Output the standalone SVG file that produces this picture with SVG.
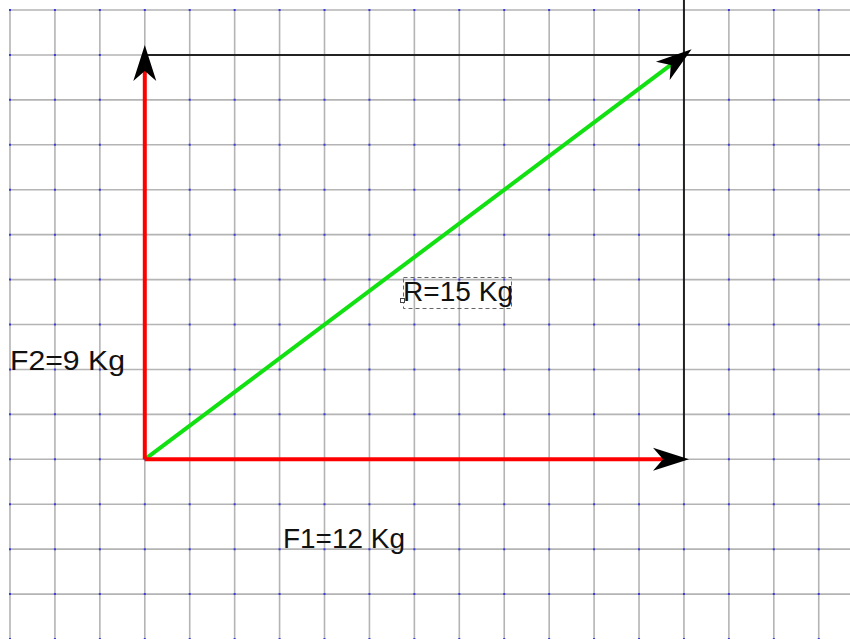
<svg xmlns="http://www.w3.org/2000/svg" width="850" height="639" viewBox="0 0 850 639">
<style>
.grid{stroke:#b4b4b4;stroke-width:1.6;fill:none}
.dots{stroke:#3a3ad8;stroke-width:2;fill:none;stroke-dasharray:2 42.93}
.axis{stroke:#222;stroke-width:2;fill:none}
.force{stroke:#ff0000;stroke-width:4;fill:none;marker-end:url(#ah)}
.result{stroke:#11e011;stroke-width:4;fill:none;marker-end:url(#ah)}
.lbl{font-family:"Liberation Sans",Arial,sans-serif;font-size:28px;fill:#111}
</style>
<defs>
<marker id="ah" markerUnits="userSpaceOnUse" markerWidth="40" markerHeight="26" viewBox="0 0 40 26" refX="12" refY="13" orient="auto">
<path d="M36,13 L0,1.5 L10,13 L0,24.5 Z" fill="#000"/>
</marker>
</defs>
<rect width="850" height="639" fill="#fff"/>
<g id="grid">
<path class="grid" d="M10,10V639M54.93,10V639M99.86,10V639M144.79,10V639M189.72,10V639M234.65,10V639M279.58,10V639M324.51,10V639M369.44,10V639M414.37,10V639M459.3,10V639M504.23,10V639M549.16,10V639M594.09,10V639M639.02,10V639M683.95,10V639M728.88,10V639M773.81,10V639M818.74,10V639"/>
<path class="grid" d="M10,10H850M10,54.93H850M10,99.86H850M10,144.79H850M10,189.72H850M10,234.65H850M10,279.58H850M10,324.51H850M10,369.44H850M10,414.37H850M10,459.3H850M10,504.23H850M10,549.16H850M10,594.09H850"/>
<path class="dots" d="M10,9V639M54.93,9V639M99.86,9V639M144.79,9V639M189.72,9V639M234.65,9V639M279.58,9V639M324.51,9V639M369.44,9V639M414.37,9V639M459.3,9V639M504.23,9V639M549.16,9V639M594.09,9V639M639.02,9V639M683.95,9V639M728.88,9V639M773.81,9V639M818.74,9V639"/>
</g>
<g id="connectors">
<path class="axis" d="M144.79,54.93H850"/>
<path class="axis" d="M683.95,0V459.3"/>
<path class="result" d="M144.79,459.3L672.4,63.7"/>
<path class="force" d="M144.79,459.3V69"/>
<path class="force" d="M144.79,459.3H665"/>
</g>
<g id="label-R">
<rect x="403.5" y="277.5" width="108" height="31" fill="none" stroke="#666" stroke-width="1" stroke-dasharray="4 3"/>
<rect x="400.5" y="298.5" width="4" height="4" fill="#fff" stroke="#444" stroke-width="1"/>
<text class="lbl" x="403" y="301" textLength="110" lengthAdjust="spacingAndGlyphs">R=15 Kg</text>
</g>
<g id="label-F2"><text class="lbl" x="10" y="370" textLength="115" lengthAdjust="spacingAndGlyphs">F2=9 Kg</text></g>
<g id="label-F1"><text class="lbl" x="283" y="548" textLength="122" lengthAdjust="spacingAndGlyphs">F1=12 Kg</text></g>
</svg>
